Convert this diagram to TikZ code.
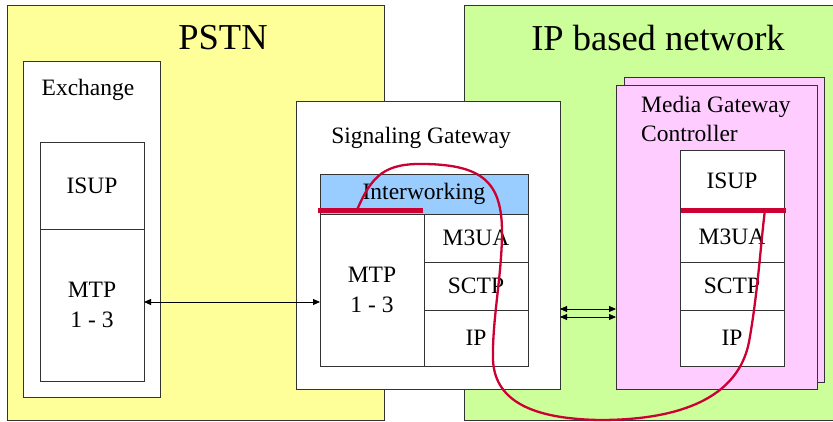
\documentclass[tikz,border=0pt]{standalone}
\usepackage{fontspec}
\setmainfont{Liberation Serif}
\usetikzlibrary{arrows.meta}
\definecolor{pstnY}{HTML}{FFFF99}
\definecolor{ipG}{HTML}{CCFF99}
\definecolor{mgcP}{HTML}{FFCCFF}
\definecolor{iwB}{HTML}{99CCFF}
\definecolor{sigR}{HTML}{CC0033}
\definecolor{edgeC}{HTML}{333333}
\begin{document}
\begin{tikzpicture}[x=1pt,y=-1pt,
  box/.style={draw=edgeC,line width=0.9pt,inner sep=0pt,outer sep=0pt,align=center,
    font=\fontsize{23.5}{29.5}\selectfont},
  layer/.style={box,fill=white},
  title/.style={inner sep=0pt,font=\fontsize{36.5}{40}\selectfont},
  label/.style={inner sep=0pt,font=\fontsize{23.5}{28.5}\selectfont},
  link/.style={line width=0.9pt,{Triangle[length=7pt,width=6pt]}-{Triangle[length=7pt,width=6pt]}},
  redbar/.style={draw=sigR,line width=5pt},
  redcurve/.style={draw=sigR,line width=2.3pt}]
\useasboundingbox (0,0) rectangle (833,421);
% networks
\node[box,fill=pstnY,minimum width=377pt,minimum height=415pt] (pstn) at (195.5,212.5) {};
\node[box,fill=ipG,minimum width=376pt,minimum height=415pt] (ipn) at (652,212.5) {};
\node[title] (pstnt) at (223,38) {PSTN};
\node[title] (ipnt) at (658,38) {IP based network};
% exchange
\node[layer,minimum width=137pt,minimum height=336pt] (exch) at (91.5,229) {};
\node[label] (excht) at (88,90) {Exchange};
\node[layer,minimum width=104pt,minimum height=88pt] (exisup) at (92,186) {ISUP};
\node[layer,minimum width=104pt,minimum height=152pt] (exmtp) at (92,305) {MTP\\1 - 3};
% signaling gateway
\node[layer,minimum width=264pt,minimum height=288pt] (sg) at (428,245) {};
\node[label] (sgt) at (421,138) {Signaling Gateway};
\node[box,fill=iwB,minimum width=208pt,minimum height=40pt] (iw) at (424,194) {Interworking};
\node[layer,minimum width=104pt,minimum height=152pt] (sgmtp) at (372,290) {MTP\\1 - 3};
\node[layer,minimum width=104pt,minimum height=48pt] (sgm3ua) at (476,238) {M3UA};
\node[layer,minimum width=104pt,minimum height=48pt] (sgsctp) at (476,286) {SCTP};
\node[layer,minimum width=104pt,minimum height=56pt] (sgip) at (476,338) {IP};
% media gateway controller
\node[box,fill=mgcP,minimum width=200pt,minimum height=305pt] (mgcback) at (724,229.5) {};
\node[box,fill=mgcP,minimum width=201pt,minimum height=304pt] (mgc) at (716.5,237) {};
\node[label,anchor=west,align=left] (mgct) at (641,119) {Media Gateway\\Controller};
\node[layer,minimum width=104pt,minimum height=61pt] (mgisup) at (732,181) {ISUP};
\node[layer,minimum width=104pt,minimum height=51pt] (mgm3ua) at (732,236.5) {M3UA};
\node[layer,minimum width=104pt,minimum height=48pt] (mgsctp) at (732,286) {SCTP};
\node[layer,minimum width=104pt,minimum height=56pt] (mgip) at (732,338) {IP};
% links
\coordinate (ay) at (0,302);
\draw[link] (exmtp.east |- ay) -- (sgmtp.west |- ay);
\coordinate (dy1) at (0,309);
\coordinate (dy2) at (0,317);
\draw[link] (sg.east |- dy1) -- (mgc.west |- dy1);
\draw[link] (sg.east |- dy2) -- (mgc.west |- dy2);
% red bars
\coordinate (sgbarL) at (318,210);
\coordinate (sgbarR) at (423,210);
\coordinate (mgbarL) at (681,210);
\coordinate (mgbarR) at (786,210);
\draw[redbar] (sgbarL) -- (sgbarR);
\draw[redbar] (mgbarL) -- (mgbarR);
% red path
\coordinate (cs) at (357,210);
\coordinate (ce) at (765,210);
\draw[redcurve] (cs) .. controls (372,175) and (385,163) .. (425,164)
  .. controls (482,165) and (502,182) .. (502,232)
  .. controls (502,275) and (492,320) .. (493,360)
  .. controls (495,405) and (540,419) .. (600,420)
  .. controls (680,420) and (738,398) .. (749,342)
  .. controls (758,292) and (761,240) .. (ce);
\end{tikzpicture}
\end{document}
